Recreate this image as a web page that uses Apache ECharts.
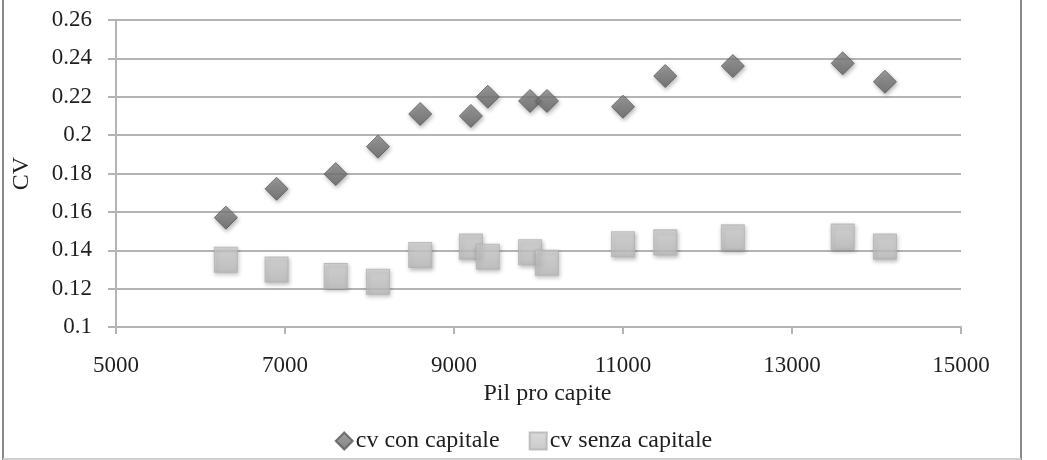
<!DOCTYPE html>
<html>
<head>
<meta charset="utf-8">
<script src="https://cdn.jsdelivr.net/npm/echarts@6/dist/echarts.min.js"></script>
<style>
html,body{margin:0;padding:0;background:#fff;}
#chart{width:1047px;height:460px;}
</style>
</head>
<body>
<div id="chart"></div>
<script>
// Data
const pilProCapite = [6300, 6900, 7600, 8100, 8600, 9200, 9400, 9900, 10100, 11000, 11500, 12300, 13600, 14100];
const cvConCapitale = [0.157, 0.172, 0.1797, 0.194, 0.211, 0.210, 0.220, 0.2178, 0.2178, 0.2148, 0.2308, 0.236, 0.2374, 0.2278];
const cvSenzaCapitale = [0.135, 0.130, 0.1266, 0.1236, 0.1375, 0.1419, 0.1366, 0.139, 0.1335, 0.1431, 0.1441, 0.1467, 0.1471, 0.1419];
const seriesNames = ['cv con capitale', 'cv senza capitale'];
const xAxisName = 'Pil pro capite';
const yAxisName = 'CV';

const pairs = (xs, ys) => xs.map((x, i) => [x, ys[i]]);
const FONT = '"Liberation Serif", "Times New Roman", serif';
const GRID = '#b4b4b4';
const TXT = '#1f1f1f';

const chart = echarts.init(document.getElementById('chart'), null, {renderer: 'canvas'});
chart.setOption({
  backgroundColor: '#ffffff',
  animation: false,
  grid: {left: 116, right: 86, top: 20, bottom: 133},
  xAxis: {
    type: 'value', min: 5000, max: 15000, interval: 2000,
    name: xAxisName, nameLocation: 'middle', nameGap: 41,
    nameTextStyle: {fontFamily: FONT, fontSize: 24, color: TXT, padding: [0, 0, 0, 18]},
    axisLine: {show: true, lineStyle: {color: GRID, width: 2}},
    axisTick: {show: true, length: 7, lineStyle: {color: GRID, width: 2}},
    splitLine: {show: false},
    axisLabel: {fontFamily: FONT, fontSize: 23, color: TXT, margin: 27, formatter: v => String(v)}
  },
  yAxis: {
    type: 'value', min: 0.1, max: 0.26, interval: 0.02,
    name: yAxisName, nameLocation: 'middle', nameGap: 82, nameRotate: 90,
    nameTextStyle: {fontFamily: FONT, fontSize: 24, color: TXT},
    axisLine: {show: true, lineStyle: {color: GRID, width: 2}},
    axisTick: {show: true, length: 8, lineStyle: {color: GRID, width: 2}},
    splitLine: {show: true, lineStyle: {color: GRID, width: 2}},
    axisLabel: {fontFamily: FONT, fontSize: 23, color: TXT, margin: 24,
      formatter: v => String(Math.round(v * 100) / 100)}
  },
  legend: {
    left: 'center', top: 424, itemGap: 29, itemWidth: 17, itemHeight: 17,
    textStyle: {fontFamily: FONT, fontSize: 24, color: TXT, padding: [0, 0, 0, -2]},
    data: seriesNames
  },
  series: [
    {
      name: seriesNames[0], type: 'scatter', symbol: 'diamond', symbolSize: [23, 23],
      data: pairs(pilProCapite, cvConCapitale),
      itemStyle: {
        color: new echarts.graphic.LinearGradient(0, 0, 0, 1, [
          {offset: 0, color: '#8c8c8c'}, {offset: 1, color: '#626262'}
        ]),
        borderColor: '#5a5a5a', borderWidth: 1,
        shadowBlur: 4, shadowOffsetX: 1, shadowOffsetY: 2, shadowColor: 'rgba(0,0,0,0.35)'
      }
    },
    {
      name: seriesNames[1], type: 'scatter', symbol: 'rect', symbolSize: [23, 25],
      data: pairs(pilProCapite, cvSenzaCapitale),
      itemStyle: {
        color: new echarts.graphic.LinearGradient(0, 0, 0, 1, [
          {offset: 0, color: '#d2d2d2'}, {offset: 1, color: '#bdbdbd'}
        ]),
        borderColor: '#b2b2b2', borderWidth: 1,
        shadowBlur: 4, shadowOffsetX: 1, shadowOffsetY: 2, shadowColor: 'rgba(0,0,0,0.3)'
      }
    }
  ],
  graphic: [
    {type: 'line', shape: {x1: 3, y1: 0, x2: 3, y2: 460}, style: {stroke: '#8a8a8a', lineWidth: 2}, silent: true},
    {type: 'line', shape: {x1: 1021, y1: 0, x2: 1021, y2: 460}, style: {stroke: '#8a8a8a', lineWidth: 2}, silent: true},
    {type: 'line', shape: {x1: 3, y1: 459, x2: 1021, y2: 459}, style: {stroke: '#cfcfcf', lineWidth: 2}, silent: true}
  ]
});
</script>
</body>
</html>
